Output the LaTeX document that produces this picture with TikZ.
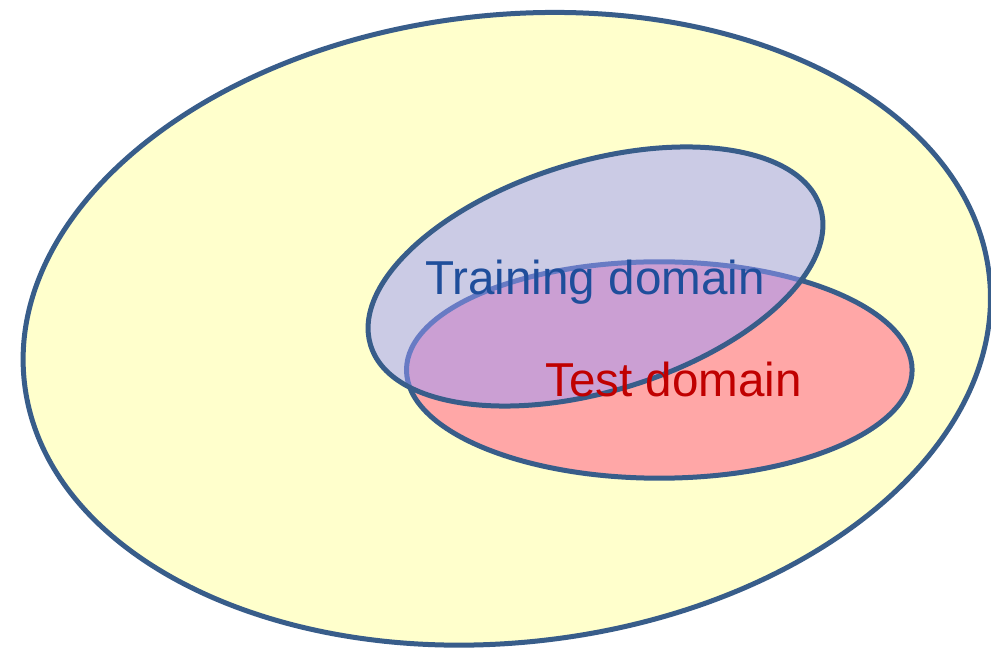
\documentclass[tikz,border=0pt]{standalone}
\usepackage{fontspec}
\setmainfont{Liberation Sans}
\definecolor{edge}{HTML}{385D8A}
\definecolor{universe}{HTML}{FFFFCC}
\definecolor{testfill}{HTML}{FFA7A7}
\definecolor{trainfill}{HTML}{9999FF}
\definecolor{traintext}{HTML}{1F4E9B}
\definecolor{testtext}{HTML}{C00000}
\begin{document}
\begin{tikzpicture}[x=0.5pt,y=0.5pt,
  region/.style={draw=edge,line width=2.5pt},
  label/.style={inner sep=0pt,anchor=base,font=\fontsize{23.8}{28}\selectfont}]
  % page frame
  \fill[white] (0,0) rectangle (991,648);
  \useasboundingbox (0,0) rectangle (991,648);
  % whole input space
  \path[region,fill=universe] (506.8,319.2) ellipse [x radius=485.4,y radius=313.7,rotate=6.3];
  % test domain
  \path[region,fill=testfill] (659.3,278) ellipse [x radius=252.8,y radius=108.2];
  % training domain, translucent fill over the test domain
  \path[region,fill=trainfill,fill opacity=0.5] (595.5,371.5) ellipse [x radius=235.2,y radius=114.8,rotate=17];
  % labels
  \node[label,text=traintext] (train) at (595,353) {Training domain};
  \node[label,text=testtext] (test) at (673.5,251.3) {Test domain};
\end{tikzpicture}
\end{document}
